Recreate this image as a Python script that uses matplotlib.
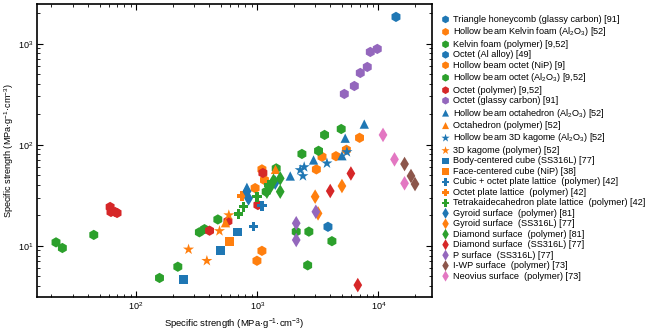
import matplotlib.pyplot as plt

plt.rcParams['font.family'] = ['Liberation Sans', 'DejaVu Sans']
plt.rcParams['mathtext.fontset'] = 'custom'
plt.rcParams['mathtext.rm'] = 'Liberation Sans'

C = {'blue': '#1f77b4', 'orange': '#ff7f0e', 'green': '#2ca02c', 'red': '#d62728',
     'purple': '#9467bd', 'brown': '#8c564b', 'pink': '#e377c2'}
AO = r'Al$\mathregular{_2}$O$\mathregular{_3}$'

tri_honey_x = [14000]
tri_honey_y = [1840]
hb_kelvin_x = [3080, 3430, 4470, 5450, 7000]
hb_kelvin_y = [57, 76, 77, 89, 117]
kelvin_poly_x = [21.8, 24.6, 44.7, 156, 221, 333, 367, 473]
kelvin_poly_y = [10.8, 9.5, 12.8, 4.8, 6.2, 13.6, 14.6, 18.2]
octet_al_x = [3840]
octet_al_y = [15.4]
hb_octet_nip_x = [1094, 995, 961, 1148, 1094]
hb_octet_nip_y = [8.9, 7.1, 37.2, 44.7, 57]
hb_octet_ao_x = [1435, 2340, 3210, 3600, 4940, 2100, 2670, 4140, 2610, 1186]
hb_octet_ao_y = [58.3, 81, 87, 125, 143, 13.8, 13.8, 11.1, 6.4, 34.3]
octet_poly_x = [61, 62, 67, 69.6, 404, 573, 1013, 1114]
octet_poly_y = [24.2, 21.6, 21.6, 21.1, 14.1, 17.5, 25.3, 52.5]
octet_gc_x = [5240, 6340, 7100, 8110, 8590, 9810]
octet_gc_y = [318, 381, 513, 588, 828, 887]
hb_octa_x = [822, 1875, 2920, 5010, 5330, 7660]
hb_octa_y = [37.9, 49, 70.6, 77.8, 116, 160]
octa_poly_x = [547, 1416]
octa_poly_y = [16.9, 57]
hb_kag_x = [2265, 2443, 2386, 3767, 5508]
hb_kag_y = [56.2, 60.1, 49, 65.5, 84.7]
kag_poly_x = [271, 384, 488, 583]
kag_poly_y = [9.2, 7.1, 14, 20.1]
bcc_x = [245, 499, 692]
bcc_y = [4.65, 8.9, 13.7]
fcc_x = [590]
fcc_y = [11.1]
cub_oct_x = [931, 1094]
cub_oct_y = [15.5, 24.9]
oct_plate_x = [748]
oct_plate_y = [31]
tetra_x = [700, 771, 994, 1239]
tetra_y = [20.6, 24.3, 30.6, 39.9]
gyr_poly_x = [822, 848, 1409]
gyr_poly_y = [34.3, 29.4, 42.1]
gyr_ss_x = [3010, 3180, 5010]
gyr_ss_y = [30.6, 20.9, 39]
dia_poly_x = [1203, 1279, 1364, 1549, 1549]
dia_poly_y = [34.3, 37.9, 44, 46.4, 34.3]
dia_ss_x = [4010, 5940, 6770]
dia_ss_y = [34.8, 51.9, 4.08]
p_ss_x = [2100, 2100, 3050]
p_ss_y = [16.7, 11.4, 21.7]
iwp_x = [16480, 18620, 20100]
iwp_y = [64.4, 49, 40.8]
neo_x = [10940, 13610, 16480]
neo_y = [125, 71.6, 41.5]

series = [
    ('Triangle honeycomb (glassy carbon) [91]', 'blue', 'h', tri_honey_x, tri_honey_y),
    ('Hollow beam Kelvin foam (' + AO + ') [52]', 'orange', 'h', hb_kelvin_x, hb_kelvin_y),
    ('Kelvin foam (polymer) [9,52]', 'green', 'h', kelvin_poly_x, kelvin_poly_y),
    ('Octet (Al alloy) [49]', 'blue', 'h', octet_al_x, octet_al_y),
    ('Hollow beam octet (NiP) [9]', 'orange', 'h', hb_octet_nip_x, hb_octet_nip_y),
    ('Hollow beam octet (' + AO + ') [9,52]', 'green', 'h', hb_octet_ao_x, hb_octet_ao_y),
    ('Octet (polymer) [9,52]', 'red', 'h', octet_poly_x, octet_poly_y),
    ('Octet (glassy carbon) [91]', 'purple', 'h', octet_gc_x, octet_gc_y),
    ('Hollow beam octahedron (' + AO + ') [52]', 'blue', '^', hb_octa_x, hb_octa_y),
    ('Octahedron (polymer) [52]', 'orange', '^', octa_poly_x, octa_poly_y),
    ('Hollow beam 3D kagome (' + AO + ') [52]', 'blue', '*', hb_kag_x, hb_kag_y),
    ('3D kagome (polymer) [52]', 'orange', '*', kag_poly_x, kag_poly_y),
    ('Body-centered cube (SS316L) [77]', 'blue', 's', bcc_x, bcc_y),
    ('Face-centered cube (NiP) [38]', 'orange', 's', fcc_x, fcc_y),
    ('Cubic + octet plate lattice  (polymer) [42]', 'blue', 'P', cub_oct_x, cub_oct_y),
    ('Octet plate lattice  (polymer) [42]', 'orange', 'P', oct_plate_x, oct_plate_y),
    ('Tetrakaidecahedron plate lattice  (polymer) [42]', 'green', 'P', tetra_x, tetra_y),
    ('Gyroid surface  (polymer) [81]', 'blue', 'd', gyr_poly_x, gyr_poly_y),
    ('Gyroid surface  (SS316L) [77]', 'orange', 'd', gyr_ss_x, gyr_ss_y),
    ('Diamond surface  (polymer) [81]', 'green', 'd', dia_poly_x, dia_poly_y),
    ('Diamond surface  (SS316L) [77]', 'red', 'd', dia_ss_x, dia_ss_y),
    ('P surface  (SS316L) [77]', 'purple', 'd', p_ss_x, p_ss_y),
    ('I-WP surface  (polymer) [73]', 'brown', 'd', iwp_x, iwp_y),
    ('Neovius surface  (polymer) [73]', 'pink', 'd', neo_x, neo_y),
]

fig = plt.figure(figsize=(6.5, 3.32), dpi=100)
ax = fig.add_axes([0.057, 0.105, 0.608, 0.883])

sizes = {'h': 55, '^': 45, '*': 70, 's': 40, 'P': 50, 'd': 55}
for label, col, mk, xs, ys in series:
    ax.scatter(xs, ys, s=sizes[mk], c=C[col], marker=mk, edgecolors='none', label=label)

ax.set_xscale('log')
ax.set_yscale('log')
ax.set_xlim(15.2, 27900)
ax.set_ylim(3.1, 2470)
ax.tick_params(which='both', direction='in', top=True, right=True, labelsize=6.5, pad=2.5)
ax.tick_params(which='major', length=4)
ax.tick_params(which='minor', length=2)
for sp in ax.spines.values():
    sp.set_linewidth(1.2)
ax.set_xlabel('Specific strength (MPa·g$^{-1}$·cm$^{-3}$)', fontsize=6.8, labelpad=3)
ax.set_ylabel('Specific strength (MPa·g$^{-1}$·cm$^{-3}$)', fontsize=6.6)
ax.yaxis.set_label_coords(-0.054, 0.5)

ax.legend(loc='upper left', bbox_to_anchor=(1.0, 0.985), frameon=False, fontsize=6.6,
          handletextpad=0.1, labelspacing=0.16, borderaxespad=0.3, scatterpoints=1,
          markerscale=0.75, handlelength=1.5)

fig.savefig('out.png', dpi=100)
